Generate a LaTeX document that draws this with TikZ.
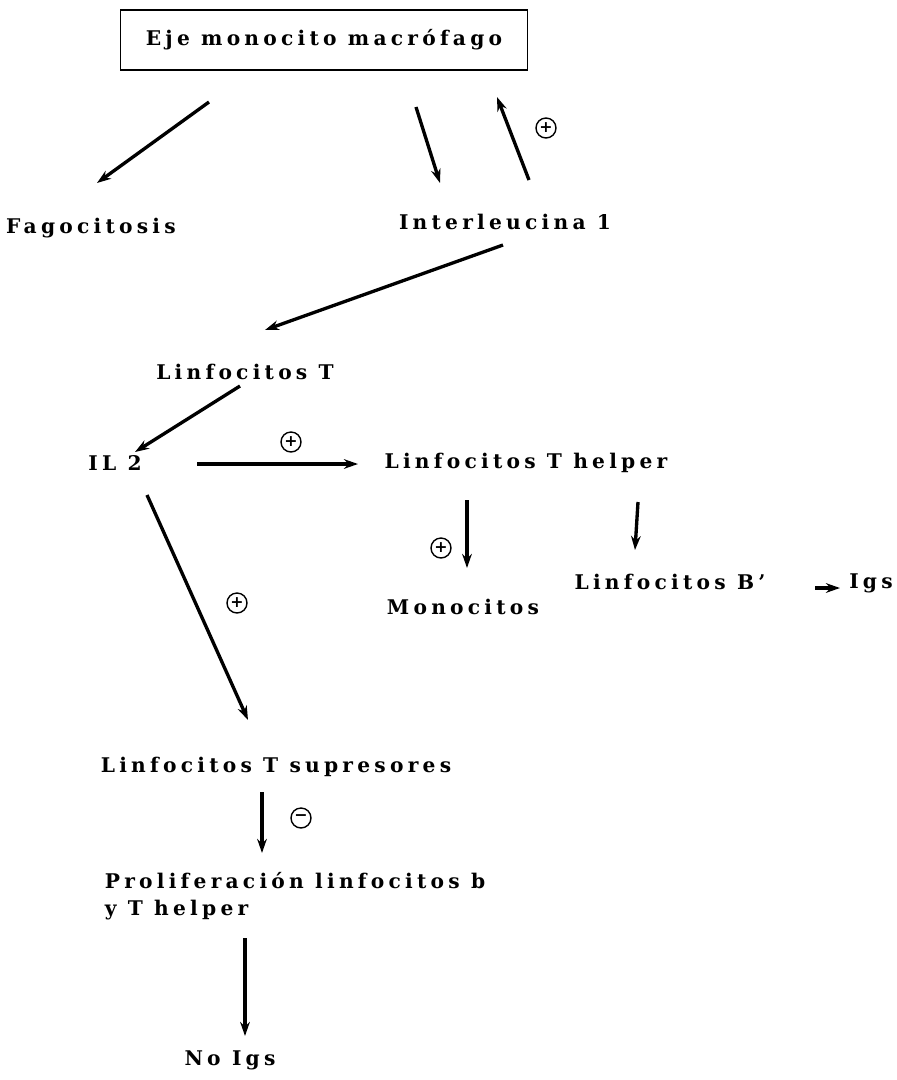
\documentclass[tikz,border=0pt]{standalone}
\usepackage{fontspec}
\setmainfont{DejaVu Serif}[LetterSpace=21]
\newfontfamily\signfont{DejaVu Sans}
\usetikzlibrary{arrows.meta}

\tikzset{
  lbl/.style={font=\bfseries\fontsize{11.5}{15}\selectfont, inner sep=1pt},
  arr/.style={-{Stealth[length=8pt,width=5.5pt]}, line width=1.9pt},
  sign/.style={circle, draw, line width=0.8pt, inner sep=0pt, minimum size=0.4cm,
               font=\signfont\bfseries\fontsize{9}{9}\selectfont}
}

\begin{document}
\begin{tikzpicture}[x=0.02cm, y=-0.02cm]
\useasboundingbox (0,0) rectangle (897,1080);

\node (eje) [lbl, draw, line width=0.6pt, minimum width=8.16cm, minimum height=1.2cm] at (324,40) {Eje monocito macrófago};
\node (fago) [lbl] at (91,228) {Fagocitosis};
\node (il1) [lbl] at (505,222) {Interleucina 1};
\node (lt) [lbl] at (245,372) {Linfocitos T};
\node (il2) [lbl] at (115,463) {IL 2};
\node (th) [lbl] at (526,463) {Linfocitos T helper};
\node (mono) [lbl] at (463,607) {Monocitos};
\node (lb) [lbl] at (670,582) {Linfocitos B'};
\node (igs) [lbl] at (871,583) {Igs};
\node (ts) [lbl] at (276,767) {Linfocitos T supresores};
\node (prol) [lbl, align=left] at (295,896) {Proliferación linfocitos b\\y T helper};
\node (noigs) [lbl] at (230,1060) {No Igs};

\draw [arr] ([shift={(-115,62)}]eje.center) -- ([shift={(6,-45)}]fago.center);
\draw [arr] ([shift={(92,67)}]eje.center) -- ([shift={(-65,-39)}]il1.center);
\draw [arr] ([shift={(24,-42)}]il1.center) -- ([shift={(173,57)}]eje.center);
\node (s1) [sign] at (546,128) {+};

\draw [arr] ([shift={(-2,23)}]il1.center) -- ([shift={(20,-42)}]lt.center);
\draw [arr] ([shift={(-5,14)}]lt.center) -- ([shift={(20,-11)}]il2.center);

\draw [arr] ([shift={(82,1)}]il2.center) -- ([shift={(-168,1)}]th.center);
\node (s2) [sign] at (291,442) {+};

\draw [arr] ([shift={(-59,37)}]th.center) -- ([shift={(4,-39)}]mono.center);
\node (s3) [sign] at (441,548) {+};
\draw [arr] ([shift={(112,39)}]th.center) -- ([shift={(-35,-32)}]lb.center);
\draw [arr] ([shift={(145,6)}]lb.center) -- ([shift={(-31,5)}]igs.center);

\draw [arr] ([shift={(32,32)}]il2.center) -- ([shift={(-28,-47)}]ts.center);
\node (s4) [sign] at (237,603) {+};

\draw [arr] ([shift={(-14,25)}]ts.center) -- ([shift={(-33,-43)}]prol.center);
\node (s5) [sign] at (301,818) {−};
\draw [arr] ([shift={(-50,42)}]prol.center) -- ([shift={(15,-24)}]noigs.center);
\end{tikzpicture}
\end{document}
